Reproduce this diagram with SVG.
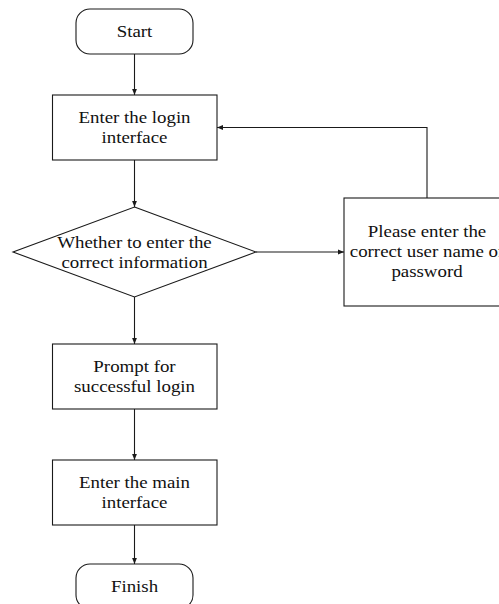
<svg xmlns="http://www.w3.org/2000/svg" width="499" height="604" viewBox="0 0 499 604">
  <style>
    .box { fill: #ffffff; stroke: #1a1a1a; stroke-width: 1.1; }
    .lbl { font-family: "Liberation Serif", "Times New Roman", serif; font-size: 16px; fill: #111111; text-anchor: middle; }
    .conn { fill: none; stroke: #1a1a1a; stroke-width: 1.1; }
  </style>
  <defs>
    <marker id="arrow" viewBox="0 0 6 6" refX="6" refY="3" markerWidth="6" markerHeight="6" markerUnits="userSpaceOnUse" orient="auto">
      <path d="M0,0.6 L6,3 L0,5.4 Z" fill="#1a1a1a"/>
    </marker>
  </defs>
  <rect x="0" y="0" width="499" height="604" fill="#ffffff"/>

  <g id="connectors">
    <line class="conn" x1="134.5" y1="54" x2="134.5" y2="95" marker-end="url(#arrow)"/>
    <line class="conn" x1="134.5" y1="160" x2="134.5" y2="207" marker-end="url(#arrow)"/>
    <line class="conn" x1="256" y1="252" x2="344" y2="252" marker-end="url(#arrow)"/>
    <polyline class="conn" points="427,198 427,127.5 217,127.5" marker-end="url(#arrow)"/>
    <line class="conn" x1="134.5" y1="297" x2="134.5" y2="344" marker-end="url(#arrow)"/>
    <line class="conn" x1="134.5" y1="409" x2="134.5" y2="460" marker-end="url(#arrow)"/>
    <line class="conn" x1="134.5" y1="525" x2="134.5" y2="564" marker-end="url(#arrow)"/>
  </g>

  <g id="start">
    <rect class="box" x="76" y="9" width="117" height="45" rx="14" ry="14"/>
    <text class="lbl" transform="translate(134.5 37) scale(1.18 1)">Start</text>
  </g>

  <g id="login">
    <rect class="box" x="52.5" y="95" width="164.5" height="65"/>
    <text class="lbl" transform="translate(134.5 123) scale(1.18 1)">Enter the login</text>
    <text class="lbl" transform="translate(134.5 143) scale(1.18 1)">interface</text>
  </g>

  <g id="decision">
    <polygon class="box" points="134.5,207 256,252 134.5,297 13,252"/>
    <text class="lbl" transform="translate(134.5 248) scale(1.18 1)">Whether to enter the</text>
    <text class="lbl" transform="translate(134.5 267.5) scale(1.18 1)">correct information</text>
  </g>

  <g id="error">
    <rect class="box" x="344" y="198" width="166" height="108"/>
    <text class="lbl" transform="translate(427 237) scale(1.18 1)">Please enter the</text>
    <text class="lbl" transform="translate(427 257) scale(1.18 1)">correct user name or</text>
    <text class="lbl" transform="translate(427 277) scale(1.18 1)">password</text>
  </g>

  <g id="success">
    <rect class="box" x="52.5" y="344" width="164.5" height="65"/>
    <text class="lbl" transform="translate(134.5 372) scale(1.18 1)">Prompt for</text>
    <text class="lbl" transform="translate(134.5 392) scale(1.18 1)">successful login</text>
  </g>

  <g id="main">
    <rect class="box" x="52.5" y="460" width="164.5" height="65"/>
    <text class="lbl" transform="translate(134.5 488) scale(1.18 1)">Enter the main</text>
    <text class="lbl" transform="translate(134.5 508) scale(1.18 1)">interface</text>
  </g>

  <g id="finish">
    <rect class="box" x="76" y="564" width="117" height="45" rx="14" ry="14"/>
    <text class="lbl" transform="translate(134.5 592) scale(1.18 1)">Finish</text>
  </g>
</svg>
